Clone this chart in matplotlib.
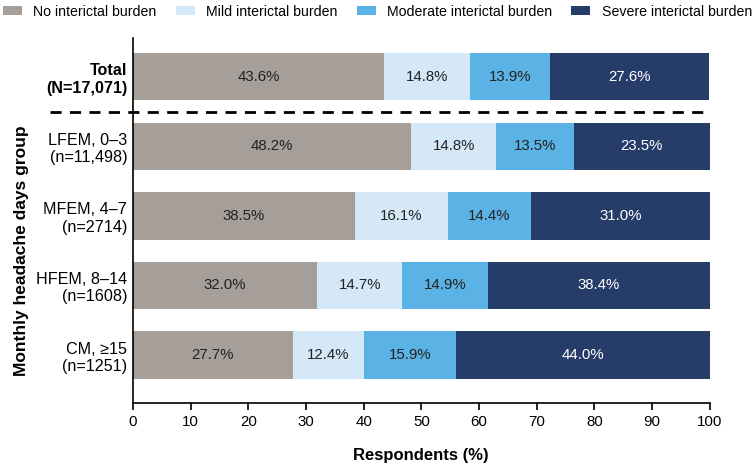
import numpy as np
import matplotlib.pyplot as plt
import matplotlib.transforms as mtransforms

plt.rcParams['font.family'] = ['Liberation Sans', 'DejaVu Sans']

groups = ['Total\n(N=17,071)', 'LFEM, 0\u20133\n(n=11,498)', 'MFEM, 4\u20137\n(n=2714)',
          'HFEM, 8\u201314\n(n=1608)', 'CM, \u226515\n(n=1251)']
series = ['No interictal burden', 'Mild interictal burden',
          'Moderate interictal burden', 'Severe interictal burden']
none_vals = [43.6, 48.2, 38.5, 32.0, 27.7]
mild_vals = [14.8, 14.8, 16.1, 14.7, 12.4]
moderate_vals = [13.9, 13.5, 14.4, 14.9, 15.9]
severe_vals = [27.6, 23.5, 31.0, 38.4, 44.0]

colors = ['#A69E98', '#D4E8F7', '#5AB3E4', '#263C69']
text_colors = ['#222222', '#222222', '#222222', 'white']

fig = plt.figure(figsize=(7.55, 4.73), dpi=100)
ax = fig.add_axes([0.176, 0.148, 0.764, 0.772])

y = np.arange(len(groups))
left = np.zeros(len(groups))
for vals, name, c, tc in zip([none_vals, mild_vals, moderate_vals, severe_vals],
                             series, colors, text_colors):
    vals = np.array(vals)
    ax.barh(y, vals, left=left, height=0.68, color=c, label=name)
    for yi, l, v in zip(y, left, vals):
        ax.text(l + v / 2, yi, f'{v:.1f}%', ha='center', va='center',
                color=tc, fontsize=10.8)
    left += vals

ax.set_ylim(4.69, -0.56)
ax.set_xlim(0, 100)
ax.set_xticks(np.arange(0, 101, 10))
ax.tick_params(axis='x', labelsize=10.8, length=5, width=1.2)
ax.set_yticks(y)
ax.set_yticklabels(groups, fontsize=11.6)
ax.get_yticklabels()[0].set_fontweight('bold')
ax.tick_params(axis='y', length=0, pad=4)
for s in ['top', 'right']:
    ax.spines[s].set_visible(False)
ax.spines['left'].set_linewidth(1.2)
ax.spines['bottom'].set_linewidth(1.2)

# dashed separator between total and subgroups
trans = mtransforms.blended_transform_factory(ax.transAxes, ax.transData)
ax.plot([-0.144, 1.0], [0.5, 0.5], transform=trans, color='black',
        linestyle=(0, (4, 3)), linewidth=2, clip_on=False)

ax.set_xlabel('Respondents (%)', fontsize=12, fontweight='bold', labelpad=14)
# y label sits centred on the subgroup rows only
fig.text(0.029, 0.469, 'Monthly headache days group', rotation=90,
         ha='center', va='center', fontsize=12.5, fontweight='bold')

fig.legend(loc='upper center', bbox_to_anchor=(0.5, 0.99), ncol=4, frameon=False,
           fontsize=10.2, handlelength=1.34, handleheight=0.56, columnspacing=1.35,
           handletextpad=0.8, borderpad=0, borderaxespad=0)

fig.savefig('out.png', dpi=100)
